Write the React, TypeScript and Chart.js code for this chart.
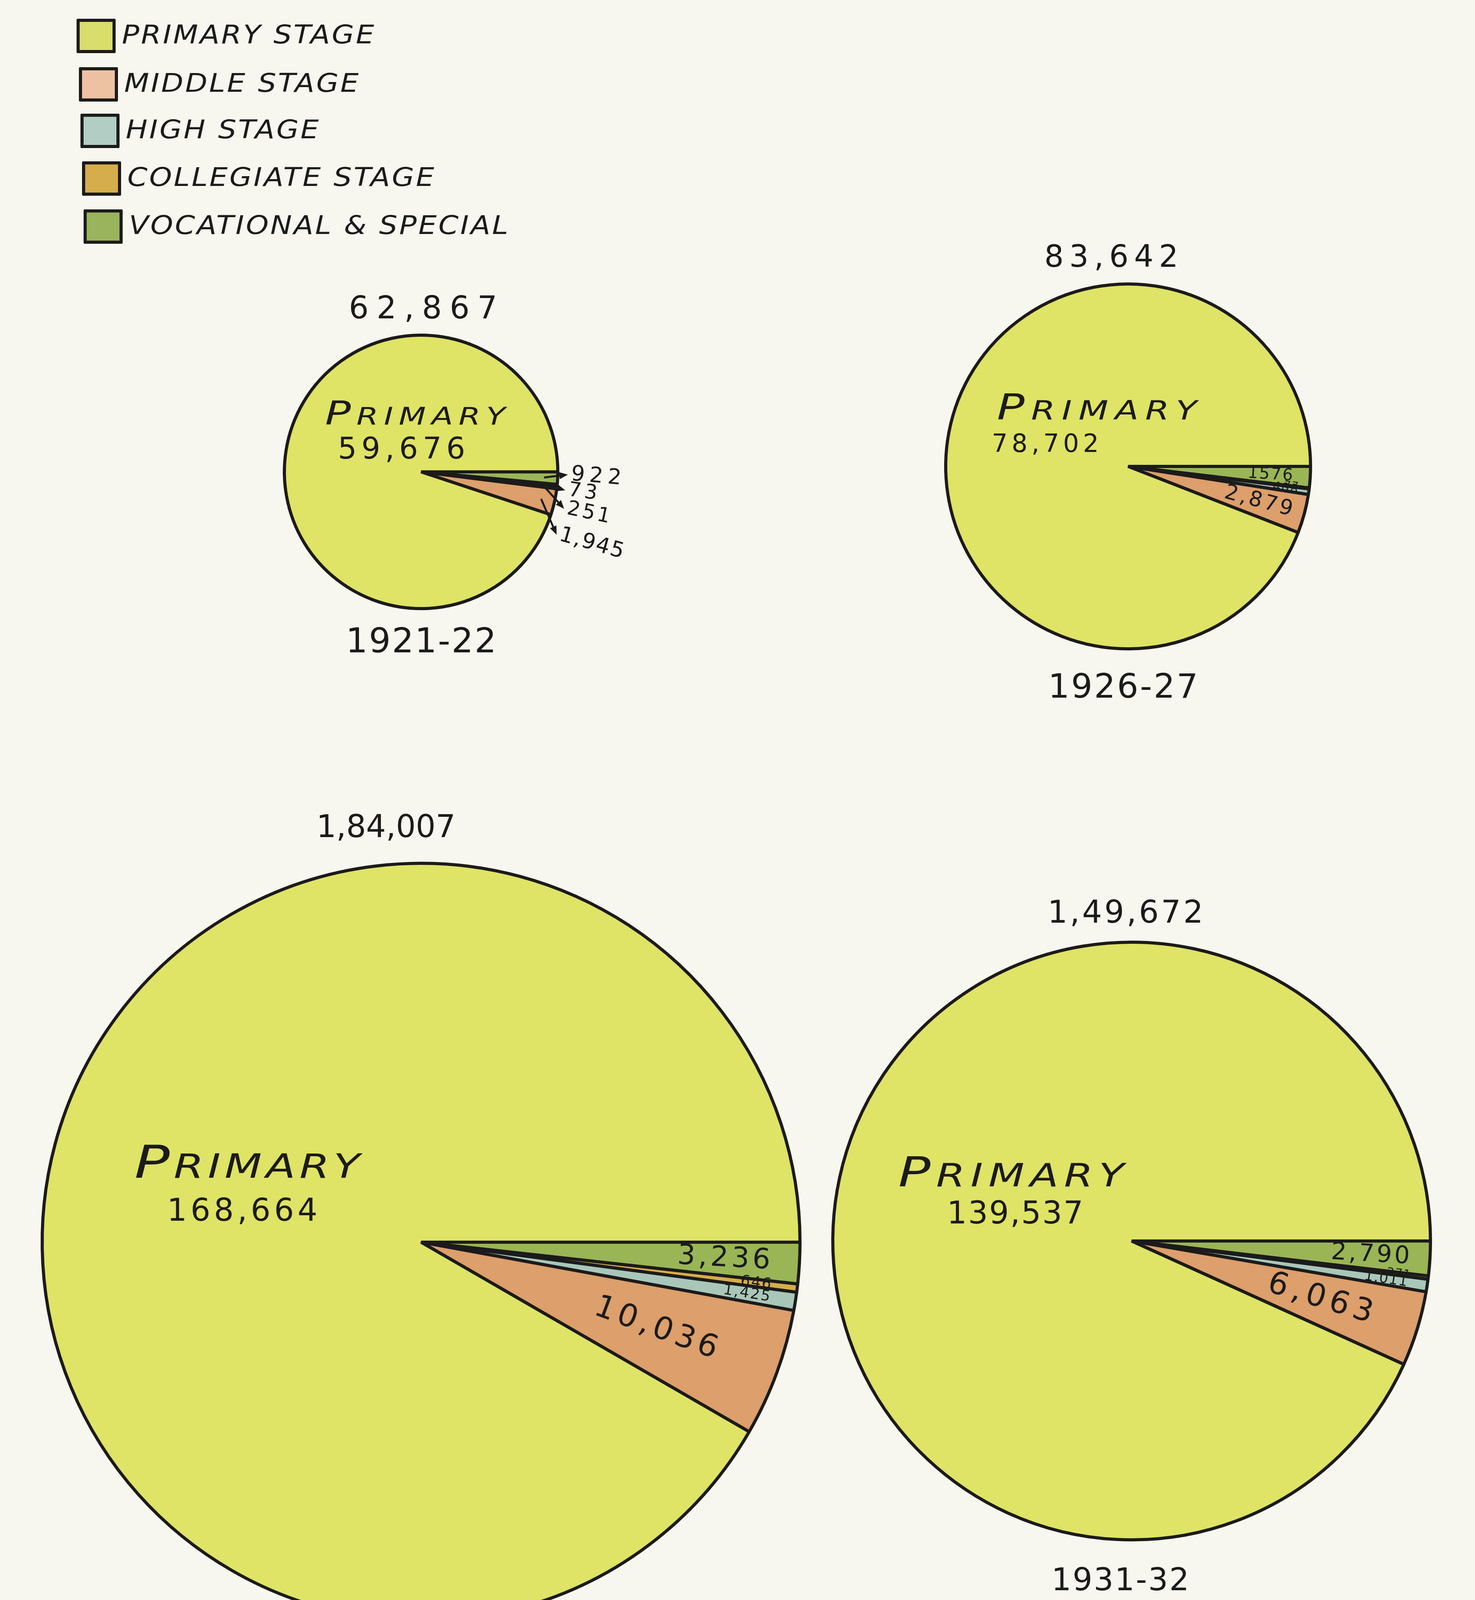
import React, { useEffect, useRef } from "react";
import { Chart, registerables } from "chart.js";

Chart.register(...registerables);

// ---------------- data ----------------
const STAGES = ["Vocational & Special", "Collegiate Stage", "High Stage", "Middle Stage", "Primary Stage"];
const LEGEND_LABELS = ["PRIMARY STAGE", "MIDDLE STAGE", "HIGH STAGE", "COLLEGIATE STAGE", "VOCATIONAL & SPECIAL"];
const YEARS = ["1921-22", "1926-27", "1931-32", "1936-37"];
const TOTAL_LABELS = ["62,867", "83,642", "1,49,672", "1,84,007"];
const VALUES_1921 = [922, 73, 251, 1945, 59676];
const VALUES_1926 = [1576, 77, 408, 2879, 78702];
const VALUES_1931 = [2790, 271, 1011, 6063, 139537];
const VALUES_1936 = [3236, 646, 1425, 10036, 168664];
const LABELS_1921 = ["922", "73", "251", "1,945", "59,676"];
const LABELS_1926 = ["1576", "77", "408", "2,879", "78,702"];
const LABELS_1931 = ["2,790", "271", "1,011", "6,063", "139,537"];
const LABELS_1936 = ["3,236", "646", "1,425", "10,036", "168,664"];
const PRIMARY_WORD = ["P", "RIMARY"];

// ---------------- style / layout ----------------
const FONT = '"DejaVu Sans", sans-serif';
const INK = "#1b1b1b";
const PAPER = "#f8f7ef";
const SLICE_COLORS = ["#9ab556", "#d7ad48", "#a9c7b9", "#dd9f6b", "#dfe366"];
const LEGEND_COLORS = ["#d9dd6c", "#ecc2a2", "#b2cec4", "#d6ad4c", "#99b45c"];

const LEGEND_ROWS = [
  { top: 48, left: 196 },
  { top: 172, left: 202 },
  { top: 291, left: 206 },
  { top: 413, left: 210 },
  { top: 536, left: 214 },
];

const PIES = [
  {
    values: VALUES_1921, labels: LABELS_1921, idx: 0,
    cx: 1078, cy: 1208, r: 350, margin: 290,
    title: { x: 1083, base: 816, size: 80, ls: 20 },
    year: { x: 1078, base: 1670, size: 88, ls: 3 },
    primary: { dx: -0.043, dy: -0.345, big: 84, small: 62, ls: 11, sx: 1.3 },
    number: { dx: -0.143, dy: -0.097, size: 76, ls: 12 },
    outside: [
      { ax: 1.097, ay: 0.02, rot: 5, size: 55, ls: 12 },
      { ax: 1.077, ay: 0.135, rot: 8, size: 52, ls: 8 },
      { ax: 1.069, ay: 0.27, rot: 12, size: 52, ls: 6 },
      { ax: 1.014, ay: 0.46, rot: 16, size: 55, ls: 3 },
    ],
    inside: null,
  },
  {
    values: VALUES_1926, labels: LABELS_1926, idx: 1,
    cx: 2888, cy: 1194, r: 467, margin: 30,
    title: { x: 2845, base: 683, size: 78, ls: 14 },
    year: { x: 2875, base: 1786, size: 86, ls: 4 },
    primary: { dx: -0.171, dy: -0.257, big: 90, small: 68, ls: 13, sx: 1.3 },
    number: { dx: -0.454, dy: -0.079, size: 64, ls: 10 },
    outside: null,
    inside: [
      { rho: 0.78, size: 42, ls: 3 },
      { rho: 0.9, size: 28, ls: 2 },
      { rho: 0.87, size: 32, ls: 2 },
      { rho: 0.74, size: 54, ls: 6 },
    ],
  },
  {
    values: VALUES_1931, labels: LABELS_1931, idx: 2,
    cx: 2897, cy: 3177, r: 765, margin: 30,
    title: { x: 2881, base: 2363, size: 80, ls: 6 },
    year: { x: 2868, base: 4072, size: 80, ls: 3 },
    primary: { dx: -0.403, dy: -0.183, big: 105, small: 82, ls: 11, sx: 1.3 },
    number: { dx: -0.39, dy: -0.059, size: 80, ls: 3 },
    outside: null,
    inside: [
      { rho: 0.8, size: 62, ls: 6 },
      { rho: 0.9, size: 30, ls: 2 },
      { rho: 0.86, size: 36, ls: 2 },
      { rho: 0.66, size: 80, ls: 12 },
    ],
  },
  {
    values: VALUES_1936, labels: LABELS_1936, idx: 3,
    cx: 1078, cy: 3180, r: 970, margin: 30,
    title: { x: 988, base: 2144, size: 80, ls: 0 },
    year: { x: 1013, base: 4297, size: 94, ls: 4 },
    primary: { dx: -0.459, dy: -0.17, big: 115, small: 85, ls: 8, sx: 1.3 },
    number: { dx: -0.472, dy: -0.057, size: 80, ls: 9 },
    outside: null,
    inside: [
      { rho: 0.8, size: 72, ls: 8 },
      { rho: 0.89, size: 38, ls: 3 },
      { rho: 0.87, size: 38, ls: 3 },
      { rho: 0.66, size: 80, ls: 10 },
    ],
  },
];

// ---------------- plugin drawing labels on the pies ----------------
const stageLabelPlugin = {
  id: "stageLabels",
  afterDatasetsDraw(chart: any, _args: any, opts: any) {
    const pie = opts.pie;
    if (!pie) return;
    const arcs = chart.getDatasetMeta(0).data as any[];
    if (!arcs.length) return;
    const ctx: CanvasRenderingContext2D = chart.ctx;
    const cx = arcs[0].x;
    const cy = arcs[0].y;
    const r = arcs[0].outerRadius;
    ctx.save();
    ctx.fillStyle = INK;
    ctx.strokeStyle = INK;

    // "PRIMARY" in small caps, italic, widened lettering
    const p = pie.primary;
    (ctx as any).letterSpacing = `${p.ls}px`;
    ctx.textBaseline = "alphabetic";
    ctx.textAlign = "left";
    ctx.font = `italic ${p.big}px ${FONT}`;
    const w1 = ctx.measureText(PRIMARY_WORD[0]).width;
    ctx.font = `italic ${p.small}px ${FONT}`;
    const w2 = ctx.measureText(PRIMARY_WORD[1]).width - p.ls;
    ctx.save();
    ctx.translate(cx + p.dx * r, cy + p.dy * r);
    ctx.scale(p.sx, 1);
    const px = -(w1 + w2) / 2;
    ctx.font = `italic ${p.big}px ${FONT}`;
    ctx.fillText(PRIMARY_WORD[0], px, 0);
    ctx.font = `italic ${p.small}px ${FONT}`;
    ctx.fillText(PRIMARY_WORD[1], px + w1, 0);
    ctx.restore();

    // primary number
    const n = pie.number;
    (ctx as any).letterSpacing = `${n.ls}px`;
    ctx.font = `${n.size}px ${FONT}`;
    ctx.textAlign = "center";
    ctx.textBaseline = "alphabetic";
    ctx.fillText(pie.labels[4], cx + n.dx * r + n.ls / 2, cy + n.dy * r);

    // slice labels inside
    if (pie.inside) {
      pie.inside.forEach((s: any, i: number) => {
        const a = arcs[i];
        const mid = (a.startAngle + a.endAngle) / 2;
        const x = cx + Math.cos(mid) * r * s.rho;
        const y = cy + Math.sin(mid) * r * s.rho;
        ctx.save();
        ctx.translate(x, y);
        ctx.rotate(mid);
        (ctx as any).letterSpacing = `${s.ls}px`;
        ctx.font = `${s.size}px ${FONT}`;
        ctx.textAlign = "center";
        ctx.textBaseline = "middle";
        ctx.fillText(pie.labels[i], s.ls / 2, 0);
        ctx.restore();
      });
    }

    // slice labels outside with arrows
    if (pie.outside) {
      pie.outside.forEach((o: any, i: number) => {
        const a = arcs[i];
        const mid = (a.startAngle + a.endAngle) / 2;
        const sx = cx + Math.cos(mid) * r * 0.9;
        const sy = cy + Math.sin(mid) * r * 0.9;
        const lx = cx + o.ax * r;
        const ly = cy + o.ay * r;
        const tx = lx - 8;
        const ty = ly;
        const ang = Math.atan2(ty - sy, tx - sx);
        const hl = 22;
        const hw = 9;
        ctx.lineWidth = 5;
        ctx.beginPath();
        ctx.moveTo(sx, sy);
        ctx.lineTo(tx - Math.cos(ang) * hl * 0.6, ty - Math.sin(ang) * hl * 0.6);
        ctx.stroke();
        ctx.beginPath();
        ctx.moveTo(tx, ty);
        ctx.lineTo(tx - hl * Math.cos(ang) + hw * Math.sin(ang), ty - hl * Math.sin(ang) - hw * Math.cos(ang));
        ctx.lineTo(tx - hl * Math.cos(ang) - hw * Math.sin(ang), ty - hl * Math.sin(ang) + hw * Math.cos(ang));
        ctx.closePath();
        ctx.fill();
        ctx.save();
        ctx.translate(lx, ly);
        ctx.rotate((o.rot * Math.PI) / 180);
        (ctx as any).letterSpacing = `${o.ls}px`;
        ctx.font = `${o.size}px ${FONT}`;
        ctx.textAlign = "left";
        ctx.textBaseline = "middle";
        ctx.fillText(pie.labels[i], 0, 0);
        ctx.restore();
      });
    }
    (ctx as any).letterSpacing = "0px";
    ctx.restore();
  },
};

function PieChart({ pie }: { pie: any }) {
  const ref = useRef<HTMLCanvasElement>(null);
  const side = 2 * (pie.r + pie.margin);
  useEffect(() => {
    if (!ref.current) return;
    const chart = new Chart(ref.current, {
      type: "pie",
      data: {
        labels: STAGES,
        datasets: [
          {
            data: pie.values,
            backgroundColor: SLICE_COLORS,
            borderColor: INK,
            borderWidth: 8,
          },
        ],
      },
      options: {
        responsive: false,
        maintainAspectRatio: false,
        animation: false,
        devicePixelRatio: 1,
        events: [],
        rotation: 90,
        radius: pie.r,
        layout: { padding: 0 },
        plugins: {
          legend: { display: false },
          tooltip: { enabled: false },
          stageLabels: { pie },
        } as any,
      } as any,
      plugins: [stageLabelPlugin as any],
    });
    return () => chart.destroy();
  }, [pie]);
  return (
    <canvas
      ref={ref}
      width={side}
      height={side}
      style={{
        position: "absolute",
        left: pie.cx - side / 2,
        top: pie.cy - side / 2,
        width: side,
        height: side,
      }}
    />
  );
}

function TextAt({ t, text }: { t: any; text: string }) {
  return (
    <div
      style={{
        position: "absolute",
        left: t.x,
        top: t.base - 0.846 * t.size,
        transform: "translateX(-50%)",
        fontSize: t.size,
        lineHeight: `${t.size}px`,
        letterSpacing: t.ls,
        paddingLeft: t.ls,
        whiteSpace: "nowrap",
        fontFamily: FONT,
        color: INK,
      }}
    >
      {text}
    </div>
  );
}

export default function App() {
  const legendSize = 66;
  return (
    <div
      style={{
        position: "absolute",
        left: 0,
        top: 0,
        width: 3776,
        height: 4339,
        overflow: "hidden",
        background: PAPER,
        fontFamily: FONT,
        color: INK,
      }}
    >
      {LEGEND_LABELS.map((lab, i) => {
        const row = LEGEND_ROWS[i];
        return (
          <React.Fragment key={lab}>
            <div
              style={{
                position: "absolute",
                left: row.left,
                top: row.top,
                width: 84,
                height: 72,
                background: LEGEND_COLORS[i],
                border: `8px solid ${INK}`,
                borderRadius: 3,
              }}
            />
            <div
              style={{
                position: "absolute",
                left: row.left + 116,
                top: row.top + 64 - 0.846 * legendSize,
                fontSize: legendSize,
                lineHeight: `${legendSize}px`,
                letterSpacing: 4,
                fontStyle: "italic",
                whiteSpace: "nowrap",
                transform: "scaleX(1.12)",
                transformOrigin: "left center",
              }}
            >
              {lab}
            </div>
          </React.Fragment>
        );
      })}
      {PIES.map((pie) => (
        <React.Fragment key={YEARS[pie.idx]}>
          <TextAt t={pie.title} text={TOTAL_LABELS[pie.idx]} />
          <TextAt t={pie.year} text={YEARS[pie.idx]} />
          <PieChart pie={pie} />
        </React.Fragment>
      ))}
    </div>
  );
}
